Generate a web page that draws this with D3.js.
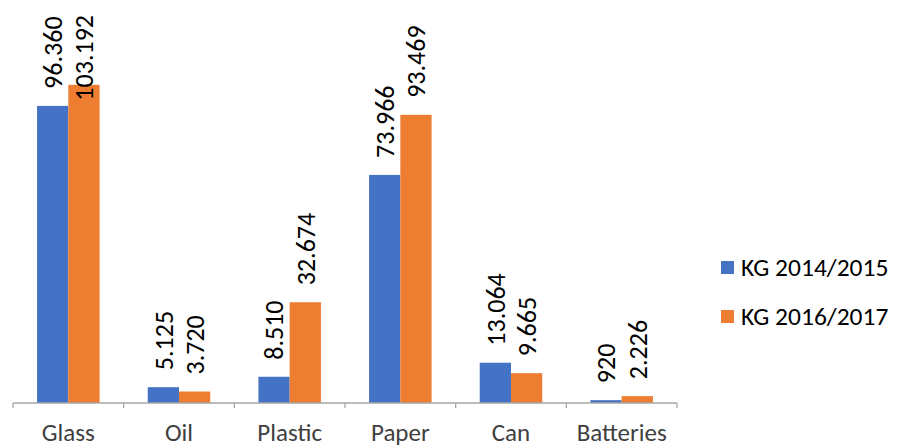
<!DOCTYPE html>
<html>
<head>
<meta charset="utf-8">
<script src="https://cdn.jsdelivr.net/npm/d3@7"></script>
<style>
  html, body { margin: 0; padding: 0; background: #fff; }
  svg { display: block; font-family: Calibri, Carlito, Lato, "Open Sans", sans-serif; }
</style>
</head>
<body>
<svg id="chart" width="898" height="448"></svg>
<script>
const categories = ["Glass", "Oil", "Plastic", "Paper", "Can", "Batteries"];
const seriesNames = ["KG 2014/2015", "KG 2016/2017"];
const values2014 = [96360, 5125, 8510, 73966, 13064, 920];
const values2017 = [103192, 3720, 32674, 93469, 9665, 2226];
const valueLabels2014 = ["96.360", "5.125", "8.510", "73.966", "13.064", "920"];
const valueLabels2017 = ["103.192", "3.720", "32.674", "93.469", "9.665", "2.226"];
const colors = ["#4472C4", "#ED7D31"];

const svg = d3.select("#chart");
const x0 = d3.scaleBand().domain(categories).range([13, 677]).padding(0);
const x1 = d3.scaleBand().domain(seriesNames).range([0, x0.bandwidth()]).paddingInner(0).paddingOuter(0.77);
const y = d3.scaleLinear().domain([0, 120000]).range([403, 33]);

const series = [
  { name: seriesNames[0], values: values2014, labels: valueLabels2014, color: colors[0] },
  { name: seriesNames[1], values: values2017, labels: valueLabels2017, color: colors[1] }
];

const data = [];
categories.forEach((c, i) => {
  series.forEach(s => data.push({ cat: c, name: s.name, v: s.values[i], label: s.labels[i], color: s.color }));
});

// bars
svg.append("g").selectAll("rect").data(data).join("rect")
  .attr("x", d => x0(d.cat) + x1(d.name))
  .attr("y", d => y(d.v))
  .attr("width", x1.bandwidth())
  .attr("height", d => y(0) - y(d.v))
  .attr("fill", d => d.color);

// x axis
const axis = svg.append("g").attr("transform", `translate(0,${y(0)})`);
axis.append("line")
  .attr("x1", x0.range()[0]).attr("x2", x0.range()[1])
  .attr("y1", 0).attr("y2", 0)
  .attr("stroke", "#a6a6a6").attr("stroke-width", 1.3);
const tickPos = categories.map(c => x0(c)).concat([x0.range()[1]]);
axis.selectAll("line.tick").data(tickPos).join("line")
  .attr("class", "tick")
  .attr("x1", d => d).attr("x2", d => d)
  .attr("y1", 0).attr("y2", 5)
  .attr("stroke", "#a6a6a6").attr("stroke-width", 1.3);
axis.selectAll("text").data(categories).join("text")
  .attr("x", d => x0(d) + x0.bandwidth() / 2)
  .attr("y", 38)
  .attr("text-anchor", "middle")
  .attr("font-size", 25)
  .attr("fill", "#404040")
  .text(d => d);

// data labels (rotated)
const gap = 17, minTop = 15;
const lbl = svg.append("g").selectAll("text").data(data).join("text")
  .attr("font-size", 26)
  .attr("fill", "#000")
  .attr("text-anchor", "start")
  .attr("dy", "0.36em")
  .text(d => d.label);
lbl.each(function(d) {
  const len = this.getComputedTextLength();
  const start = Math.max(y(d.v) - gap, minTop + len);
  const cx = x0(d.cat) + x1(d.name) + x1.bandwidth() / 2;
  d3.select(this).attr("transform", `translate(${cx},${start}) rotate(-90)`);
});

// legend
const legend = svg.append("g").selectAll("g").data(series).join("g")
  .attr("transform", (d, i) => `translate(721,${261 + i * 49})`);
legend.append("rect").attr("width", 13).attr("height", 13).attr("fill", d => d.color);
legend.append("text")
  .attr("x", 20).attr("y", 15)
  .attr("font-size", 25.5)
  .attr("fill", "#000")
  .text(d => d.name);
</script>
</body>
</html>
